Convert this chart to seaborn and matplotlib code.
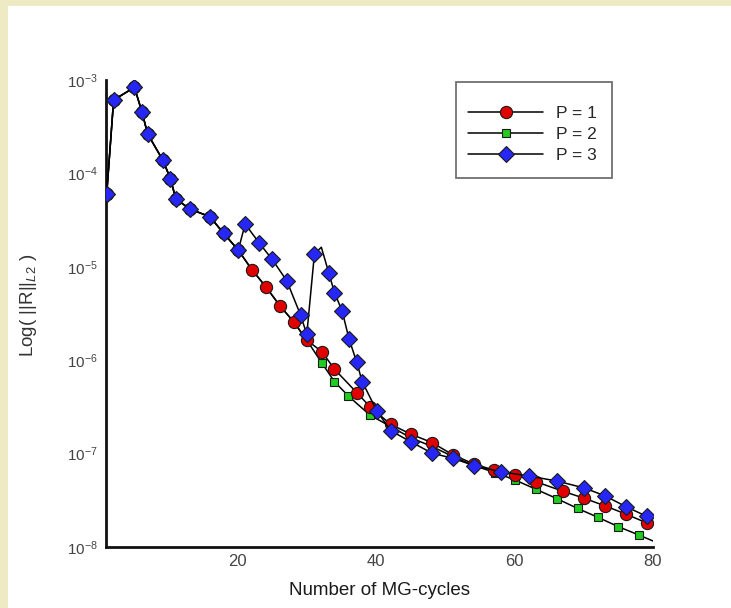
import numpy as np
import pandas as pd
import seaborn as sns
import matplotlib
matplotlib.use("Agg")
import matplotlib.pyplot as plt
from matplotlib.lines import Line2D
from matplotlib.patches import Rectangle
from matplotlib.ticker import LogLocator, MultipleLocator, NullFormatter, FixedLocator

# Residual history per polynomial order (MG-cycle, ||R||_L2)
p1_cycles = [1.1, 2.1, 5.1, 6.2, 7.0, 9.2, 10.3, 11.1, 13.2, 16.0, 18.0, 20.1,
             22.1, 24.1, 26.1, 28.1, 30.0, 32.2, 34.0, 37.3, 39.1, 42.1, 45.0,
             48.1, 51.1, 54.2, 57.0, 60.1, 63.1, 67.0, 70.1, 73.1, 76.1, 79.1, 80.0]
p1_resid = [6.0e-5, 6.1e-4, 8.35e-4, 4.54e-4, 2.66e-4, 1.39e-4, 8.8e-5, 5.3e-5,
            4.13e-5, 3.44e-5, 2.28e-5, 1.51e-5,
            9.25e-6, 6.1e-6, 3.84e-6, 2.58e-6, 1.64e-6, 1.23e-6, 8.0e-7, 4.43e-7,
            3.19e-7, 2.06e-7, 1.62e-7, 1.31e-7, 9.7e-8, 7.7e-8, 6.67e-8, 5.9e-8,
            5.0e-8, 3.95e-8, 3.32e-8, 2.75e-8, 2.25e-8, 1.81e-8, 1.68e-8]

p2_cycles = [1.1, 2.1, 5.1, 6.2, 7.0, 9.2, 10.3, 11.1, 13.2, 16.0, 18.0, 20.1,
             22.1, 24.1, 26.1, 28.1, 30.0, 32.2, 34.0, 36.0, 39.1, 42.1, 45.0,
             48.1, 51.1, 54.2, 57.2, 60.1, 63.1, 66.1, 69.1, 72.1, 75.0, 78.0, 80.0]
p2_resid = [6.0e-5, 6.1e-4, 8.35e-4, 4.54e-4, 2.66e-4, 1.39e-4, 8.8e-5, 5.3e-5,
            4.13e-5, 3.44e-5, 2.28e-5, 1.51e-5,
            9.25e-6, 6.1e-6, 3.84e-6, 2.58e-6, 1.64e-6, 9.27e-7, 5.89e-7, 4.14e-7,
            2.59e-7, 1.95e-7, 1.48e-7, 1.19e-7, 9.3e-8, 7.4e-8, 6.27e-8, 5.21e-8,
            4.15e-8, 3.3e-8, 2.59e-8, 2.07e-8, 1.65e-8, 1.34e-8, 1.16e-8]

p3_cycles = [1.1, 2.1, 5.1, 6.2, 7.0, 9.2, 10.3, 11.1, 13.2, 16.0, 18.0, 20.1,
             21.1, 23.1, 25.0, 27.1, 29.1, 30.0, 31.1, 32.1, 33.2, 34.0, 35.1,
             36.1, 37.2, 38.0, 40.1, 42.1, 45.0, 48.1, 51.1, 54.2, 58.0, 62.1,
             66.1, 70.1, 73.1, 76.1, 79.1, 80.0]
p3_resid = [6.0e-5, 6.1e-4, 8.35e-4, 4.54e-4, 2.66e-4, 1.39e-4, 8.8e-5, 5.3e-5,
            4.13e-5, 3.44e-5, 2.28e-5, 1.51e-5,
            2.87e-5, 1.81e-5, 1.2e-5, 7.1e-6, 3.05e-6, 1.89e-6, 1.37e-5, 1.62e-5,
            8.5e-6, 5.28e-6, 3.37e-6, 1.69e-6, 9.57e-7, 5.89e-7, 2.88e-7, 1.76e-7,
            1.34e-7, 1.01e-7, 8.9e-8, 7.42e-8, 6.4e-8, 5.75e-8, 5.09e-8, 4.28e-8,
            3.52e-8, 2.70e-8, 2.13e-8, 1.97e-8]

# vertices of the polyline that carry no symbol
p1_plain = [80.0]
p2_plain = [80.0]
p3_plain = [32.1, 80.0]

series_labels = ["P = 1", "P = 2", "P = 3"]
x_ticks = [20, 40, 60, 80]

sns.set_theme(style="white")
plt.rcParams["font.family"] = ["Liberation Sans", "DejaVu Sans"]
plt.rcParams["mathtext.fontset"] = "custom"
plt.rcParams["mathtext.rm"] = "Liberation Sans"
plt.rcParams["mathtext.it"] = "Liberation Sans:italic"
plt.rcParams["mathtext.bf"] = "Liberation Sans:bold"

W, H = 731, 608
fig = plt.figure(figsize=(W / 100, H / 100), dpi=100, facecolor="white")
# slide-coloured margins at the left and top
fig.patches.append(Rectangle((0, 0), 8 / W, 1, transform=fig.transFigure,
                             facecolor="#EEEAC3", edgecolor="none", zorder=-5))
fig.patches.append(Rectangle((0, 1 - 6 / H), 1, 6 / H, transform=fig.transFigure,
                             facecolor="#EEEAC3", edgecolor="none", zorder=-5))

ax_l, ax_r, ax_t, ax_b = 106, 653, 80, 547
ax = fig.add_axes([ax_l / W, 1 - ax_b / H, (ax_r - ax_l) / W, (ax_b - ax_t) / H])
ax.set_facecolor("none")

styles = [
    dict(marker="o", markerfacecolor="#E00000", markersize=8.8),
    dict(marker="s", markerfacecolor="#1FCC1F", markersize=6.3),
    dict(marker="D", markerfacecolor="#2626F5", markersize=7.8),
]
data = [(p1_cycles, p1_resid, p1_plain),
        (p2_cycles, p2_resid, p2_plain),
        (p3_cycles, p3_resid, p3_plain)]
# stacking: P=2 at the bottom, P=1 above it, P=3 on top
layer = [4, 3, 5]

for idx in [1, 0, 2]:
    xs, ys, plain = data[idx]
    df = pd.DataFrame({"cycle": xs, "resid": ys})
    marked = [i for i, x in enumerate(xs) if x not in plain]
    sns.lineplot(data=df, x="cycle", y="resid", ax=ax, estimator=None, sort=False,
                 color="black", linewidth=1.1, markevery=marked,
                 markeredgecolor="#1a1a1a", markeredgewidth=0.8,
                 legend=False, zorder=layer[idx], **styles[idx])

ax.set_yscale("log")
ax.set_xlim(1, 80)
ax.set_ylim(1e-8, 1e-3)

ax.xaxis.set_major_locator(FixedLocator(x_ticks))
ax.xaxis.set_minor_locator(MultipleLocator(4))
ax.yaxis.set_major_locator(LogLocator(base=10, numticks=10))
ax.yaxis.set_minor_locator(LogLocator(base=10, subs=np.arange(2, 10), numticks=20))
ax.yaxis.set_minor_formatter(NullFormatter())

for side in ["top", "right"]:
    ax.spines[side].set_visible(False)
for side in ["left", "bottom"]:
    ax.spines[side].set_linewidth(2.0)
    ax.spines[side].set_color("#111111")

ax.tick_params(axis="both", which="major", direction="in", length=8.5, width=1.5,
               color="#111111")
ax.tick_params(axis="both", which="minor", direction="in", length=4.8, width=1.2,
               color="#111111")
ax.tick_params(axis="x", which="major", labelsize=12, pad=5, labelcolor="#444444")
ax.tick_params(axis="y", which="major", labelsize=11, pad=6, labelcolor="#444444")

ax.set_xlabel("Number of MG-cycles", fontsize=13.5, color="#1a1a1a")
ax.xaxis.set_label_coords(0.5, -0.075)
ax.set_ylabel("Log( ||R||$_{L2}$ )", fontsize=13.5, color="#333333")
ax.yaxis.set_label_coords(-0.122, 0.518)

# legend frame and entries
aw, ah = ax_r - ax_l, ax_b - ax_t
bx0, bx1, by0, by1 = 455.7, 611.7, 81.7, 177.7
ax.add_patch(Rectangle(((bx0 - ax_l) / aw, (ax_b - by1) / ah), (bx1 - bx0) / aw,
                       (by1 - by0) / ah, transform=ax.transAxes, facecolor="white",
                       edgecolor="#707070", linewidth=1.3, zorder=10, clip_on=False))
handles = [Line2D([], [], color="black", linewidth=1.1, markeredgecolor="#1a1a1a",
                  markeredgewidth=0.8, **st) for st in styles]
leg = ax.legend(handles, series_labels, loc="center",
                bbox_to_anchor=((532.5 - ax_l) / aw, (ax_b - 134.5) / ah),
                frameon=False, fontsize=12.5, handlelength=4.3, handletextpad=0.75,
                labelspacing=0.35, borderpad=0.0)
leg.set_zorder(11)

fig.savefig("out.png", dpi=100, facecolor=fig.get_facecolor())
